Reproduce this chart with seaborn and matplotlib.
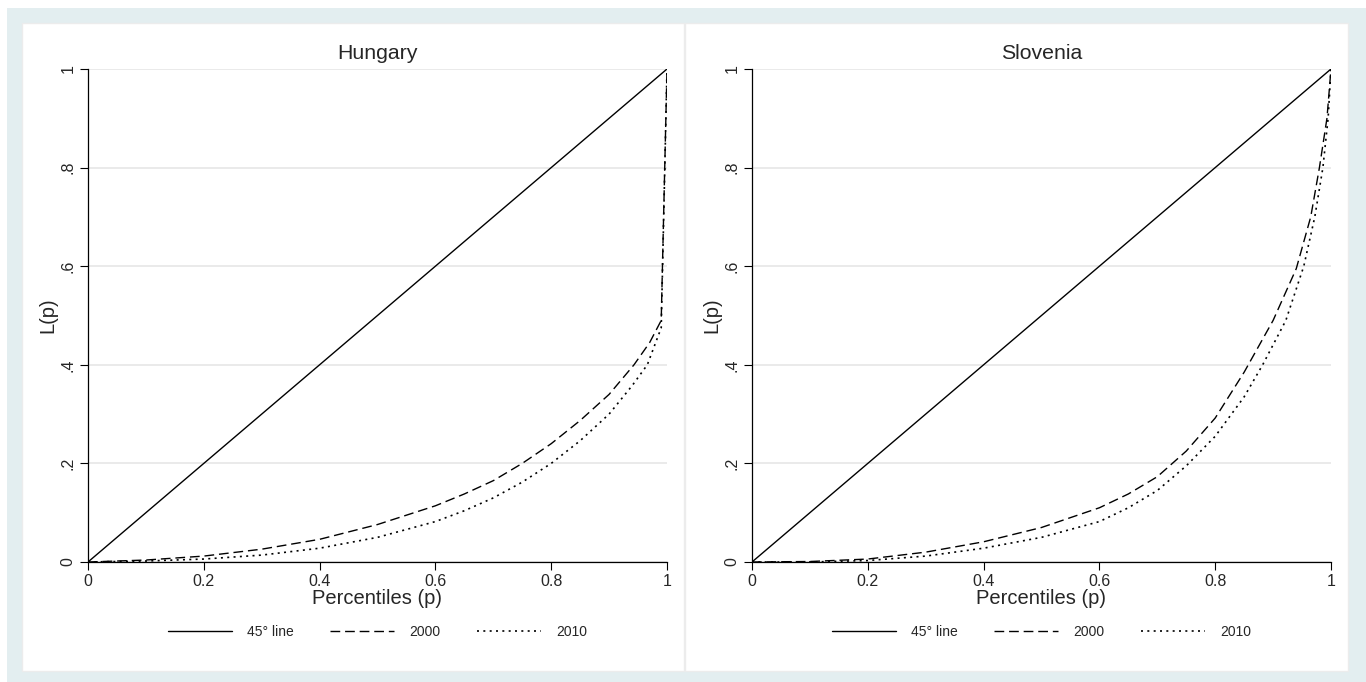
import numpy as np
import pandas as pd
import seaborn as sns
import matplotlib.pyplot as plt
from matplotlib.patches import Rectangle
from matplotlib.lines import Line2D

# Lorenz curve values
hun_p = [0, 0.1, 0.2, 0.3, 0.4, 0.5, 0.6, 0.65, 0.7, 0.75, 0.8, 0.85, 0.9, 0.943, 0.97, 0.99, 1.0]
hun_2000 = [0, 0.004, 0.012, 0.026, 0.046, 0.076, 0.114, 0.138, 0.165, 0.2, 0.24, 0.287, 0.34, 0.4, 0.445, 0.49, 1.0]

hun_p10 = [0, 0.1, 0.2, 0.3, 0.4, 0.5, 0.6, 0.65, 0.7, 0.75, 0.8, 0.85, 0.9, 0.94, 0.966, 0.99, 1.0]
hun_2010 = [0, 0.002, 0.006, 0.014, 0.028, 0.05, 0.082, 0.104, 0.13, 0.162, 0.2, 0.246, 0.3, 0.358, 0.4, 0.475, 1.0]

slo_p = [0, 0.1, 0.2, 0.3, 0.4, 0.5, 0.6, 0.65, 0.7, 0.75, 0.8, 0.85, 0.9, 0.94, 0.965, 0.98, 0.993, 1.0]
slo_2000 = [0, 0.001, 0.006, 0.02, 0.041, 0.07, 0.11, 0.138, 0.173, 0.225, 0.292, 0.385, 0.49, 0.595, 0.7, 0.8, 0.9, 1.0]

slo_p10 = [0, 0.1, 0.2, 0.3, 0.4, 0.5, 0.6, 0.65, 0.7, 0.75, 0.8, 0.85, 0.882, 0.922, 0.953, 0.972, 0.986, 0.995, 1.0]
slo_2010 = [0, 0.0, 0.003, 0.012, 0.028, 0.05, 0.082, 0.11, 0.145, 0.195, 0.255, 0.335, 0.4, 0.49, 0.6, 0.7, 0.8, 0.9, 1.0]

diag = [0, 1]
xticks = [0, 0.2, 0.4, 0.6, 0.8, 1]
xtick_labels = ['0', '0.2', '0.4', '0.6', '0.8', '1']
yticks = [0, 0.2, 0.4, 0.6, 0.8, 1]
ytick_labels = ['0', '.2', '.4', '.6', '.8', '1']

sns.set_style('white')
plt.rcParams['font.family'] = ['Liberation Sans', 'DejaVu Sans']

W, H = 1366, 682
fig = plt.figure(figsize=(W / 100, H / 100), dpi=100)
fig.patch.set_facecolor('white')


def rect(x0, y0, x1, y1, **kw):
    # pixel box (top-left origin) -> figure fraction
    fig.add_artist(Rectangle((x0 / W, 1 - y1 / H), (x1 - x0) / W, (y1 - y0) / H,
                             transform=fig.transFigure, zorder=-5, **kw))


rect(7, 8, W, H, facecolor='#e3eef0', edgecolor='none')
rect(22, 23, 684, 671, facecolor='white', edgecolor='#ececec', linewidth=1)
rect(685, 23, 1348, 671, facecolor='white', edgecolor='#ececec', linewidth=1)

dash_style = (0, (7, 3.5))
dot_style = (0, (1.2, 2.6))

panels = [
    ('Hungary', 88, hun_p, hun_2000, hun_p10, hun_2010),
    ('Slovenia', 752, slo_p, slo_2000, slo_p10, slo_2010),
]

for title, left_px, p0, l0, p1, l1 in panels:
    ax = fig.add_axes([left_px / W, (H - 562) / H, 579 / W, 493 / H])
    ax.set_facecolor('white')
    sns.lineplot(x=diag, y=diag, ax=ax, color='black', linewidth=1.0,
                 estimator=None, sort=False)
    sns.lineplot(x=p0, y=l0, ax=ax, color='black', linewidth=1.0,
                 linestyle=dash_style, estimator=None, sort=False)
    sns.lineplot(x=p1, y=l1, ax=ax, color='black', linewidth=1.2,
                 linestyle=dot_style, estimator=None, sort=False)

    ax.set_xlim(0, 1)
    ax.set_ylim(0, 1)
    ax.set_xticks(xticks)
    ax.set_xticklabels(xtick_labels, fontsize=11.5)
    ax.set_yticks(yticks)
    ax.set_yticklabels(ytick_labels, fontsize=11.5, rotation=90, va='center')
    ax.tick_params(axis='both', direction='out', length=6, width=0.8,
                   color='black', pad=3, left=True, bottom=True)
    ax.yaxis.grid(True, color='#e6e6e6', linewidth=1.2)
    ax.xaxis.grid(False)
    ax.set_axisbelow(True)
    for s in ['top', 'right']:
        ax.spines[s].set_visible(False)
    for s in ['left', 'bottom']:
        ax.spines[s].set_color('black')
        ax.spines[s].set_linewidth(0.9)

    ax.set_title(title, fontsize=15.3, pad=7)
    ax.set_xlabel('Percentiles (p)', fontsize=14.5, labelpad=0)
    ax.set_ylabel('L(p)', fontsize=14.5, labelpad=2)

    handles = [
        Line2D([], [], color='black', linewidth=1.0),
        Line2D([], [], color='black', linewidth=1.0, linestyle=dash_style),
        Line2D([], [], color='black', linewidth=1.2, linestyle=dot_style),
    ]
    ax.legend(handles, ['45\u00b0 line', '2000', '2010'], loc='center',
              bbox_to_anchor=(0.5, -0.142), ncol=3, frameon=False,
              fontsize=10, handlelength=4.6, handletextpad=1.1,
              columnspacing=2.6)

fig.savefig('out.png', dpi=100)
